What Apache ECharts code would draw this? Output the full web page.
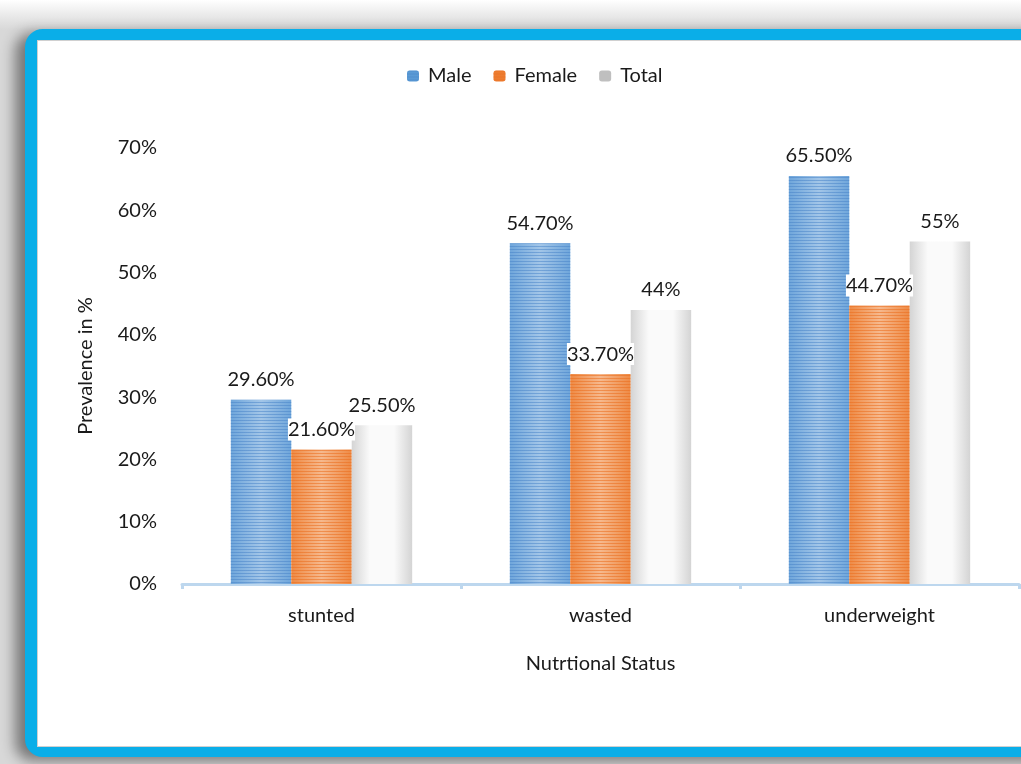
<!DOCTYPE html>
<html><head><meta charset="utf-8">
<script src="https://cdn.jsdelivr.net/npm/echarts@6/dist/echarts.min.js"></script>
<style>
html,body{margin:0;padding:0;width:1021px;height:764px;overflow:hidden;background:#fff;}
#bg{position:absolute;left:0;top:0;width:1021px;height:764px;background:linear-gradient(#fff 0px,#e6e6e6 18px,#d8d8d8 30px);}
#frame{position:absolute;left:25px;top:29px;width:1030px;height:704px;border:12px solid #0AAEE8;border-radius:18px;background:#fff;box-shadow:-10px 4px 14px rgba(0,0,0,0.45);}
#inner{position:absolute;left:37px;top:40px;width:1000px;height:705px;border:1px solid #d0d0d0;background:#fff;}
#chart{position:absolute;left:0;top:0;width:1021px;height:764px;}
</style></head>
<body>
<div id="bg"></div>
<div id="frame"></div>
<div id="inner"></div>
<div id="chart"></div>
<script>
const categories = ['stunted', 'wasted', 'underweight'];
const maleValues = [29.6, 54.7, 65.5];
const femaleValues = [21.6, 33.7, 44.7];
const totalValues = [25.5, 44, 55];
const yTicks = [0, 10, 20, 30, 40, 50, 60, 70];

const FONT = 'Lato';
const FS = 20;
const chart = echarts.init(document.getElementById('chart'), null, {renderer: 'canvas'});

function fmtPct(v, allowInt) {
  if (allowInt && Number.isInteger(v)) return v + '%';
  return v.toFixed(2) + '%';
}
const labelBase = {
  show: true, position: 'top', distance: 9,
  fontFamily: FONT, fontSize: FS, color: '#1a1a1a',
  backgroundColor: '#fff', padding: [1, 0, 1, 0]
};
const stripe = (c) => ({
  color: c, symbol: 'rect', dashArrayX: [1, 0], dashArrayY: [1, 2], rotation: 0, symbolSize: 1
});

chart.setOption({
  animation: false,
  legend: {
    top: 61, left: 402, itemWidth: 12, itemHeight: 11, itemGap: 22,
    textStyle: {fontFamily: FONT, fontSize: 20, color: '#1a1a1a', padding: [0, 0, 0, 4]},
    data: [
      {name: 'Male', itemStyle: {color: '#5B9BD5'}},
      {name: 'Female', itemStyle: {color: '#ED7D31'}},
      {name: 'Total', itemStyle: {color: '#BFBFBF'}}
    ]
  },
  grid: {left: 182, right: 2, top: 148, bottom: 180},
  xAxis: {
    type: 'category', data: categories,
    name: 'Nutrtional Status', nameLocation: 'middle', nameGap: 70,
    nameTextStyle: {fontFamily: FONT, fontSize: FS, color: '#1a1a1a'},
    axisLine: {lineStyle: {color: '#BDD7EE', width: 3}},
    axisTick: {show: true, length: 5, lineStyle: {color: '#BDD7EE', width: 3}},
    axisLabel: {fontFamily: FONT, fontSize: FS, color: '#1a1a1a', margin: 22}
  },
  yAxis: {
    type: 'value', min: 0, max: 70, interval: 10,
    name: 'Prevalence in %', nameLocation: 'middle', nameGap: 86, nameRotate: 90,
    nameTextStyle: {fontFamily: FONT, fontSize: FS, color: '#1a1a1a'},
    axisLine: {show: false}, axisTick: {show: false}, splitLine: {show: false},
    axisLabel: {fontFamily: FONT, fontSize: FS, color: '#1a1a1a', margin: 25,
      formatter: (v) => yTicks.includes(v) ? v + '%' : ''}
  },
  series: [
    {
      name: 'Male', type: 'bar', data: maleValues, barGap: '0%', barCategoryGap: '35%',
      itemStyle: {
        color: {type: 'linear', x: 0, y: 0, x2: 1, y2: 0, colorStops: [
          {offset: 0, color: '#6FA6DB'}, {offset: 0.5, color: '#A3C6E8'}, {offset: 1, color: '#6FA6DB'}]},
        decal: stripe('rgba(70,130,200,0.5)')
      },
      label: Object.assign({}, labelBase, {formatter: (p) => fmtPct(p.value, false)})
    },
    {
      name: 'Female', type: 'bar', data: femaleValues,
      itemStyle: {
        color: {type: 'linear', x: 0, y: 0, x2: 1, y2: 0, colorStops: [
          {offset: 0, color: '#EE8A45'}, {offset: 0.5, color: '#F6B98E'}, {offset: 1, color: '#EE8A45'}]},
        decal: stripe('rgba(235,110,30,0.55)')
      },
      label: Object.assign({}, labelBase, {formatter: (p) => fmtPct(p.value, false)})
    },
    {
      name: 'Total', type: 'bar', data: totalValues,
      itemStyle: {
        color: {type: 'linear', x: 0, y: 0, x2: 1, y2: 0, colorStops: [
          {offset: 0, color: '#D4D4D4'}, {offset: 0.3, color: '#FAFAFA'}, {offset: 0.7, color: '#FAFAFA'}, {offset: 1, color: '#D4D4D4'}]}
      },
      label: Object.assign({}, labelBase, {formatter: (p) => fmtPct(p.value, true)})
    }
  ]
});
</script>
</body></html>
